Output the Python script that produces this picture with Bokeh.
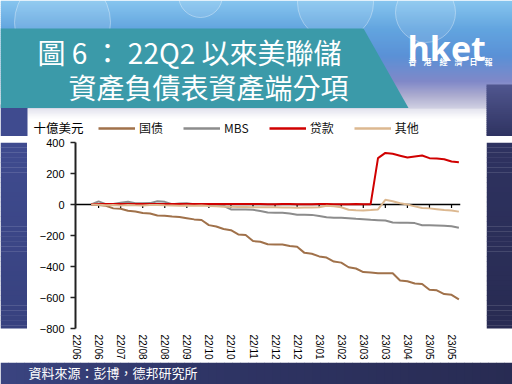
import math
from bokeh.plotting import figure
from bokeh.models import Range1d, Span, Legend, LegendItem, FixedTicker
from bokeh.layouts import column, row
from bokeh.embed import file_html
from bokeh.resources import INLINE
from bokeh.core.properties import value

# ---------------- data ----------------
weeks = list(range(51))  # weekly, 2022-06-15 .. 2023-06-07
treasury = [0, -3, -8, -25, -28, -40, -45, -55, -58, -71, -73, -77, -80, -88, -96,
            -100, -133, -142, -158, -166, -193, -197, -236, -240, -256, -258, -258,
            -268, -273, -312, -318, -335, -342, -368, -375, -405, -413, -436, -439,
            -443, -443, -443, -490, -495, -510, -513, -550, -554, -578, -583, -612]
mbs = [0, 20, 2, 4, 12, 18, 8, 8, 9, 21, 17, 2, 6, 8, 2, -2, -4, -5, -8, -32, -32,
       -32, -34, -42, -52, -53, -54, -58, -66, -66, -67, -74, -82, -85, -86, -88,
       -92, -95, -99, -101, -103, -116, -117, -118, -120, -134, -134, -135, -137,
       -141, -150]
loans = [2, 3, 3, 4, 4, 4, 3, 3, 4, 4, 3, 3, 3, 4, 4, 4, 3, 3, 3, 4, 4, 3, 3, 3,
         2, 2, 3, 3, 2, 2, 2, 3, 3, 2, 2, 2, 3, 2, 2, 299, 333, 327, 315, 303, 310,
         316, 299, 296, 292, 277, 273]
other = [0, -2, -5, -4, -6, -3, -5, -6, -4, -3, -5, -6, -8, -7, -8, -6, -10, -12,
         -14, -15, -16, -16, -17, -18, -18, -17, -19, -20, -21, -20, -19, -18, -8,
         -12, -18, -34, -37, -38, -36, -32, 30, 21, 8, 0, -12, -22, -25, -30, -36,
         -39, -46]
series = [treasury, mbs, loans, other]
series_names = ["国债", "MBS", "贷款", "其他"]
series_colors = ["#a0714a", "#8c8c8c", "#d00000", "#dcb890"]
tick_pos = [-2, 1, 4, 7, 10, 13, 16, 19, 22, 25, 28, 31, 34, 37, 40, 43, 46, 49]
tick_labels = ["22/06", "22/06", "22/07", "22/08", "22/08", "22/09", "22/10",
               "22/10", "22/11", "22/12", "22/12", "23/01", "23/02", "23/03",
               "23/03", "23/04", "23/05", "23/05"]
y_ticks = [-800, -600, -400, -200, 0, 200, 400]

title_1 = "圖 6 ： 22Q2 以來美聯儲"
title_2 = "資產負債表資產端分項"
unit_text = "十億美元"
source_text = "資料來源：彭博，德邦研究所"
logo_text = "hket"
logo_sub = ["香", "港", "經", "濟", "日", "報"]


# ---------------- helpers for decoration ----------------
def lerp_color(c1, c2, t):
    a = [int(c1[i:i + 2], 16) for i in (1, 3, 5)]
    b = [int(c2[i:i + 2], 16) for i in (1, 3, 5)]
    return "#%02x%02x%02x" % tuple(round(a[k] + (b[k] - a[k]) * t) for k in range(3))


def grad(stops, pos):
    for (p0, c0), (p1, c1) in zip(stops, stops[1:]):
        if p0 <= pos <= p1:
            return lerp_color(c0, c1, (pos - p0) / (p1 - p0))
    return stops[-1][1] if pos > stops[-1][0] else stops[0][1]


def deco_fig(w, h, x0, x1, y0, y1, bg=None):
    f = figure(width=w, height=h, x_range=Range1d(x0, x1), y_range=Range1d(y1, y0),
               x_axis_location=None, y_axis_location=None, toolbar_location=None,
               output_backend="svg", min_border=0, title=None)
    f.grid.visible = False
    f.outline_line_color = None
    f.border_fill_color = None
    if bg is not None:
        f.background_fill_color = bg
    return f


# ---------------- header (page y 0..136), incl. unit text and legend ----------------
HB = 136
H = deco_fig(512, HB, 0, 512, 0, HB, bg="white")
hstops = [(0, "#86c4ee"), (28, "#62a4df"), (55, "#5a90d6"), (80, "#8088c8"),
          (95, "#aeaed0"), (108, "#d4d4e4")]
ys = list(range(0, 108, 2))
H.quad(left=0, right=512, top=ys, bottom=[y + 2.5 for y in ys],
       color=[grad(hstops, y) for y in ys], line_color=None)
H.circle(x=[62, 335, 425, 200], y=[22, 2, 12, -5], radius=[48, 38, 30, 22],
         fill_color="white", fill_alpha=0.10, line_color="white", line_alpha=0.35)
bys = list(range(108, 118, 1))
H.quad(left=27, right=486, top=bys, bottom=[y + 1.2 for y in bys],
       color=[lerp_color("#e0e0ec", "#ffffff", (y - 108) / 10) for y in bys], line_color=None)
H.quad(left=0, right=27, top=104, bottom=HB + 0.5, color="#3f4b8f", line_color=None)
rys = list(range(84, HB, 2))
H.quad(left=486, right=512, top=rys, bottom=[y + 2.5 for y in rys],
       color=[lerp_color("#50568e", "#2e3260", (y - 84) / (HB - 84)) for y in rys], line_color=None)
H.patch([0, 363, 408, 0], [28, 28, 107.5, 107.5], color="#3b9aa9", line_color=None)
H.text(x=[37], y=[51], text=[title_1], text_font=value("Noto Sans CJK TC"),
       text_font_size="28px", text_color="white", text_baseline="middle", text_align="left")
H.text(x=[68], y=[86], text=[title_2], text_font=value("Noto Sans CJK TC"),
       text_font_size="28px", text_color="white", text_baseline="middle", text_align="left")
H.text(x=[407], y=[47], text=[logo_text], text_font=value("Open Sans"),
       text_font_style="bold", text_font_size="34px", text_color="white",
       text_baseline="alphabetic", text_align="left")
H.text(x=[412, 427, 443, 458, 473, 488], y=[61] * 6, text=logo_sub,
       text_font=value("Noto Sans CJK TC"), text_font_style="bold",
       text_font_size="8px", text_color="white", text_baseline="middle", text_align="center")
H.text(x=[33], y=[126.5], text=[unit_text], text_font=value("Noto Sans CJK TC"),
       text_font_size="12.5px", text_color="black", text_baseline="middle", text_align="left")
# single-point keys (a one-point line draws nothing) so the legend can show each series' style
key_renderers = [H.line(x=[weeks[0]], y=[vals[0]], line_color=col, line_width=2.5)
                 for vals, col in zip(series, series_colors)]
legend = Legend(items=[LegendItem(label=n, renderers=[r]) for n, r in zip(series_names, key_renderers)],
                orientation="horizontal", location=(98, 0), padding=0, margin=0,
                spacing=20, glyph_width=37, glyph_height=14, label_height=14,
                label_standoff=4, background_fill_alpha=0, border_line_color=None,
                label_text_font="Noto Sans CJK SC", label_text_font_size="12px",
                label_text_color="#111111")
H.add_layout(legend)

# ---------------- side strips (page y 136..362) ----------------
MH = 362 - HB
L = deco_fig(27, MH, 0, 27, HB, 362)
lys = list(range(HB, 362, 6))
L.quad(left=0, right=27, top=lys, bottom=[y + 6.5 for y in lys],
       color=[lerp_color("#3f4b8f", "#37417e", (y - HB) / MH) for y in lys], line_color=None)
R = deco_fig(26, MH, 486, 512, HB, 362)
R.quad(left=486, right=512, top=lys, bottom=[y + 6.5 for y in lys],
       color=[lerp_color("#2e3260", "#282b52", (y - HB) / MH) for y in lys], line_color=None)

# ---------------- footer (page y 362..384) ----------------
F = deco_fig(512, 22, 0, 512, 362, 384)
fxs = list(range(0, 512, 8))
F.quad(left=fxs, right=[x + 8.5 for x in fxs], top=362, bottom=384,
       color=[grad([(0, "#3a4480"), (200, "#2f3566"), (512, "#282b52")], x) for x in fxs],
       line_color=None)
F.text(x=[28], y=[372], text=[source_text], text_font=value("Noto Sans CJK TC"),
       text_font_size="13px", text_color="white", text_baseline="middle", text_align="left")

# ---------------- chart (page x 27..486, y 136..362; frame 75..460 x 142..328) ----------------
C = figure(width=459, height=MH, x_range=Range1d(-2.14, 50.22), y_range=Range1d(-800, 400),
           min_border_left=48, min_border_right=26, min_border_top=142 - HB, min_border_bottom=34,
           toolbar_location=None, output_backend="svg", title=None)
C.grid.visible = False
C.outline_line_color = None
C.background_fill_color = "white"
C.border_fill_color = "white"

zero = Span(location=0, dimension="width", line_color="black", line_width=1.5, level="underlay")
C.add_layout(zero)
C.segment(x0=tick_pos[1:], y0=[0] * 17, x1=tick_pos[1:], y1=[-22] * 17,
          line_color="black", line_width=1.2, level="underlay")

for vals, col in zip(series, series_colors):
    C.line(weeks, vals, line_color=col, line_width=2)

xa = C.xaxis[0]
xa.ticker = FixedTicker(ticks=tick_pos)
xa.major_label_overrides = {t: lab for t, lab in zip(tick_pos, tick_labels)}
xa.axis_line_color = None
xa.major_tick_line_color = None
xa.minor_tick_line_color = None
xa.major_tick_out = 0
xa.major_tick_in = 0
xa.major_label_orientation = -math.pi / 2
xa.major_label_standoff = 6
xa.major_label_text_font = "Liberation Sans"
xa.major_label_text_font_size = "10px"
xa.major_label_text_color = "black"

ya = C.yaxis[0]
ya.ticker = FixedTicker(ticks=y_ticks)
ya.axis_line_color = "#222222"
ya.axis_line_width = 2
ya.major_tick_line_color = "#222222"
ya.major_tick_line_width = 1.5
ya.major_tick_out = 5
ya.major_tick_in = 0
ya.minor_tick_line_color = None
ya.major_label_standoff = 6
ya.major_label_text_font = "Liberation Sans"
ya.major_label_text_font_size = "11px"
ya.major_label_text_color = "black"

page = column(H, row(L, C, R, spacing=0), F, spacing=0)
open("out.html", "w").write(file_html(page, INLINE))
